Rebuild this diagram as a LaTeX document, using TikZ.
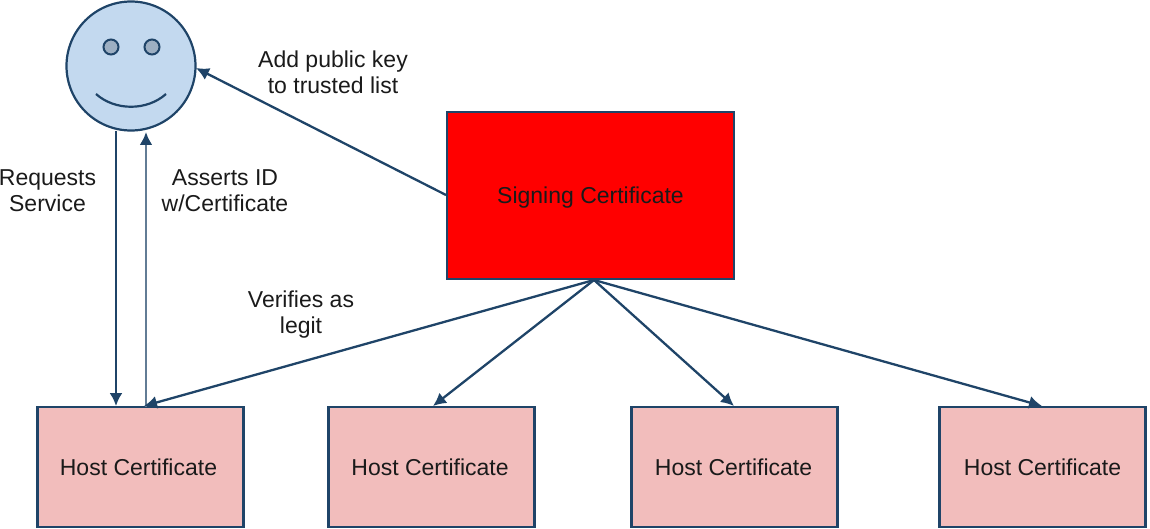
\documentclass[tikz,border=0pt]{standalone}
\usepackage{fontspec}
\setmainfont{Liberation Sans}
\usetikzlibrary{arrows.meta}
\definecolor{ln}{HTML}{1F4468}
\definecolor{hostfill}{HTML}{F2BDBC}
\definecolor{face}{HTML}{C3D9EF}
\definecolor{eyefill}{HTML}{9DAFC2}
\definecolor{txt}{HTML}{1A1A1A}
\tikzset{x=1pt,y=-1pt,
hostbox/.style={draw=ln,line width=2.4pt,fill=hostfill,minimum width=206pt,minimum height=120pt,inner sep=0pt,text=txt,font=\fontsize{23}{25}\selectfont},
eyeball/.style={draw=ln,line width=2pt,fill=eyefill,circle,minimum size=15pt,inner sep=0pt},
lbl/.style={font=\fontsize{23}{26}\selectfont,align=center,text=txt},
conn/.style={draw=ln,line width=2.3pt,-{Latex[length=13pt,width=13pt]}}}
\begin{document}
\begin{tikzpicture}
\useasboundingbox (0,0) rectangle (1150,529);
\node[draw=ln,line width=2.2pt,fill=face,circle,minimum size=129pt,inner sep=0pt] (s) at (131,66) {};
\node[eyeball] (e1) at (111,47) {};
\node[eyeball] (e2) at (152,47) {};
\coordinate (sm1) at (96,94);
\coordinate (sm2) at (166,94);
\draw[ln,line width=2.2pt] (sm1) .. controls (115,111) and (147,111) .. (sm2);
\node[draw=ln,line width=2.4pt,fill=red,minimum width=287pt,minimum height=167pt,inner sep=0pt,text=txt,font=\fontsize{23}{25}\selectfont] (sc) at (590.5,195.5) {\smash{\raisebox{-8pt}{Signing Certificate}}};
\node[hostbox] (h1) at (140.5,467) {Host Certificate\hspace*{4pt}};
\node[hostbox] (h2) at (431.5,467) {Host Certificate\hspace*{3pt}};
\node[hostbox] (h3) at (734.5,467) {Host Certificate\hspace*{2pt}};
\node[hostbox] (h4) at (1042.5,467) {Host Certificate};
\coordinate (apex) at (594,280);
\coordinate (scw) at (446,195);
\coordinate (sfar) at (196,68);
\coordinate (a1) at (116,131);
\coordinate (b1) at (116,406);
\coordinate (a2) at (146,407);
\coordinate (b2) at (146,132);
\coordinate (t1) at (144,406);
\coordinate (t2) at (433,406);
\coordinate (t3) at (734,406);
\coordinate (t4) at (1042,406);
\draw[conn] (scw) -- (sfar);
\draw[conn] (a1) -- (b1);
\draw[conn,line width=2.8pt,draw=ln!70!white,-{Latex[length=13pt,width=13pt,color=ln]}] (a2) -- (b2);
\draw[conn] (apex) -- (t1);
\draw[conn] (apex) -- (t2);
\draw[conn] (apex) -- (t3);
\draw[conn] (apex) -- (t4);
\node[lbl] (l1) at (333,72) {Add public key\\to trusted list};
\node[lbl] (l2) at (47.5,190.5) {Requests\\Service};
\node[lbl] (l3) at (225,190.5) {Asserts ID\\w/Certificate};
\node[lbl] (l4) at (301,315) {Verifies as\\legit};
\end{tikzpicture}
\end{document}
